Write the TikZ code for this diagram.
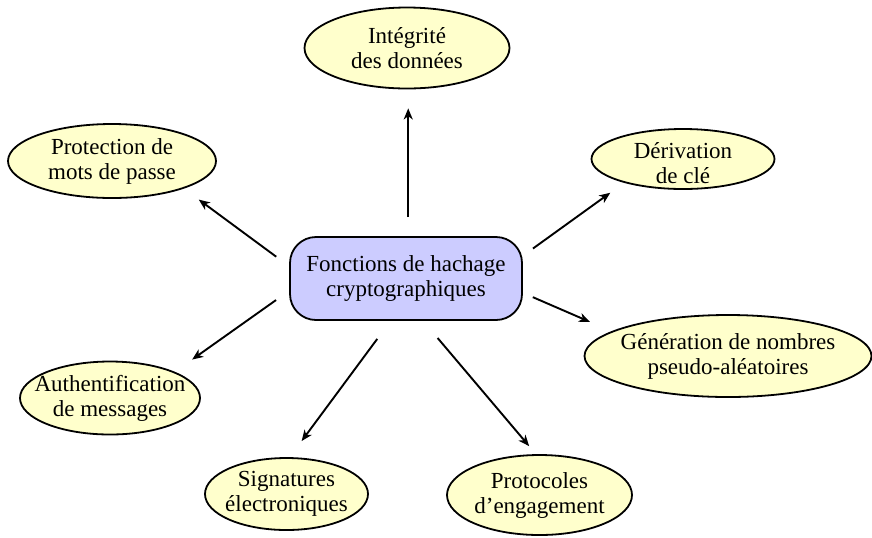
\documentclass[tikz,border=0pt]{standalone}
\usepackage{fontspec}
\setmainfont{Liberation Serif}
\usetikzlibrary{shapes.geometric,arrows.meta}
\definecolor{ellfill}{HTML}{FFFFCC}
\definecolor{boxfill}{HTML}{CCCCFF}
\tikzset{
  txt/.style={align=center,font=\fontsize{11.5}{12.5}\selectfont,inner sep=0pt},
  leaf/.style={ellipse,draw=black,line width=0.9pt,fill=ellfill,inner sep=0pt},
  hub/.style={txt,rectangle,rounded corners=13pt,draw=black,line width=0.9pt,fill=boxfill,
    minimum width=116pt,minimum height=41.5pt},
  arr/.style={line width=0.95pt,-{Stealth[length=5.5pt,width=4.5pt,inset=1.6pt]}}
}
\begin{document}
\begin{tikzpicture}[x=0.5pt,y=-0.5pt]
\useasboundingbox (0,0) rectangle (872,537);
\node[hub] (c) at (406,278.5) {Fonctions de hachage\\cryptographiques};
\node[leaf,minimum width=102.5pt,minimum height=40.5pt] (i) at (407,48) {};
\node[txt] (it) at (i) {Intégrité\\des données};
\node[leaf,minimum width=104pt,minimum height=37pt] (p) at (112,161) {};
\node[txt] (pt) at (p) {Protection de\\mots de passe};
\node[leaf,minimum width=91.5pt,minimum height=30pt] (d) at (683,159) {};
\node[txt] (dt) at (683,163) {Dérivation\\de clé};
\node[leaf,minimum width=143.5pt,minimum height=41pt] (g) at (728,356) {};
\node[txt] (gt) at (g) {Génération de nombres\\pseudo-aléatoires};
\node[leaf,minimum width=90pt,minimum height=36.5pt] (a) at (110,398) {};
\node[txt] (at) at (a) {Authentification\\de messages};
\node[leaf,minimum width=81.5pt,minimum height=36pt] (s) at (286.5,494) {};
\node[txt] (st) at (s) {Signatures\\électroniques};
\node[leaf,minimum width=92.5pt,minimum height=40pt] (pr) at (539.5,495) {};
\node[txt] (prt) at (pr) {Protocoles\\d’engagement};
\draw[arr,shorten <=9.5pt,shorten >=9.5pt] (c.87) -- (c.87 |- i.south);
\draw[arr,shorten <=8pt,shorten >=9.25pt] (c.174) -- (p.-21);
\draw[arr,shorten <=6.2pt,shorten >=8.5pt] (c.11) -- (d.-158);
\draw[arr,shorten <=5.4pt,shorten >=11.75pt] (c.-7) -- (g.168);
\draw[arr,shorten <=8pt,shorten >=10.6pt] (c.-174) -- (a.22);
\draw[arr,shorten <=11.2pt,shorten >=10pt] (c.-110) -- (s.85);
\draw[arr,shorten <=11.2pt,shorten >=5.25pt] (c.-68) -- (pr.95);
\end{tikzpicture}
\end{document}
